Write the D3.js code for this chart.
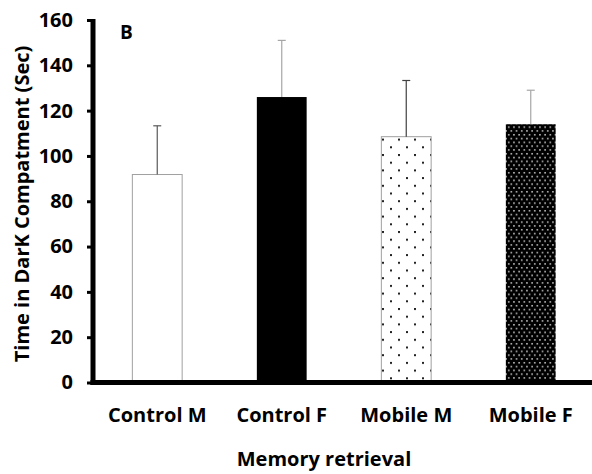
<!DOCTYPE html>
<html lang="en">
<head>
<meta charset="UTF-8">
<title>Memory retrieval</title>
<style>
  body { margin: 0; background: #fff; }
  svg { display: block; }
  text { font-family: "Open Sans", "Liberation Sans", sans-serif; font-weight: bold; fill: #000; }
</style>
</head>
<body>
<script src="https://d3js.org/d3.v7.min.js"></script>
<script>
// data
var groups = ["Control M", "Control F", "Mobile M", "Mobile F"];
var means = [91.8, 126, 108.5, 114];
var errors = [21.5, 25, 24.8, 15];
var yTicks = [0, 20, 40, 60, 80, 100, 120, 140, 160];
var fills = ["#fff", "#000", "url(#dotsLight)", "url(#dotsDark)"];
var errColors = ["#595959", "#a6a6a6", "#404040", "#a6a6a6"];

var width = 592, height = 474;

var svg = d3.select("body").append("svg")
    .attr("width", width)
    .attr("height", height);

var defs = svg.append("defs");

// white with dark dots
var p1 = defs.append("pattern")
    .attr("id", "dotsLight")
    .attr("patternUnits", "userSpaceOnUse")
    .attr("x", 382).attr("y", 0)
    .attr("width", 16).attr("height", 15.4);
p1.append("rect").attr("width", 16).attr("height", 15.4).attr("fill", "#fff");
p1.append("rect").attr("x", 0).attr("y", 0).attr("width", 2).attr("height", 2).attr("fill", "#222");
p1.append("rect").attr("x", 8).attr("y", 7.7).attr("width", 2).attr("height", 2).attr("fill", "#222");

// black with light dots
var p2 = defs.append("pattern")
    .attr("id", "dotsDark")
    .attr("patternUnits", "userSpaceOnUse")
    .attr("width", 5.2).attr("height", 7.6);
p2.append("rect").attr("width", 5.2).attr("height", 7.6).attr("fill", "#000");
p2.append("rect").attr("x", 1).attr("y", 1).attr("width", 1.5).attr("height", 1.5).attr("fill", "#d0d0d0");
p2.append("rect").attr("x", 3.6).attr("y", 4.8).attr("width", 1.5).attr("height", 1.5).attr("fill", "#d0d0d0");

var x = d3.scaleBand()
    .domain(groups)
    .range([95, 593])
    .paddingInner(0.6)
    .paddingOuter(0.3);

var y = d3.scaleLinear()
    .domain([0, 160])
    .range([382.5, 20]);

// bars
svg.selectAll(".bar")
    .data(groups)
    .enter().append("rect")
    .attr("class", "bar")
    .attr("x", function(d) { return x(d); })
    .attr("y", function(d, i) { return y(means[i]); })
    .attr("width", x.bandwidth())
    .attr("height", function(d, i) { return y(0) - y(means[i]); })
    .attr("fill", function(d, i) { return fills[i]; })
    .attr("stroke", function(d, i) { return i == 0 || i == 2 ? "#a0a0a0" : "none"; })
    .attr("stroke-width", 1);

// error bars (upper only)
var eb = svg.selectAll(".err")
    .data(groups)
    .enter().append("g")
    .attr("class", "err");

eb.append("line")
    .attr("x1", function(d) { return x(d) + x.bandwidth() / 2; })
    .attr("x2", function(d) { return x(d) + x.bandwidth() / 2; })
    .attr("y1", function(d, i) { return y(means[i]); })
    .attr("y2", function(d, i) { return y(means[i] + errors[i]); })
    .attr("stroke", function(d, i) { return errColors[i]; })
    .attr("stroke-width", 1.2);

eb.append("line")
    .attr("x1", function(d) { return x(d) + x.bandwidth() / 2 - 4; })
    .attr("x2", function(d) { return x(d) + x.bandwidth() / 2 + 4; })
    .attr("y1", function(d, i) { return y(means[i] + errors[i]); })
    .attr("y2", function(d, i) { return y(means[i] + errors[i]); })
    .attr("stroke", function(d, i) { return errColors[i]; })
    .attr("stroke-width", 1.2);

// y axis
var yAxis = svg.append("g")
    .attr("transform", "translate(93,0)")
    .call(d3.axisLeft(y).tickValues(yTicks).tickSize(6).tickPadding(14));
yAxis.select(".domain").attr("stroke", "#000").attr("stroke-width", 5)
    .attr("d", "M0," + (y(160) - 1) + "V" + (y(0) + 2.5));
yAxis.selectAll(".tick line").attr("stroke", "#000").attr("stroke-width", 3);
yAxis.selectAll(".tick text")
    .style("font-size", "20px")
    .attr("fill", "#000");

// x axis
var xAxis = svg.append("g")
    .attr("transform", "translate(0,382.5)")
    .call(d3.axisBottom(x).tickSize(0).tickPadding(25));
xAxis.select(".domain").attr("stroke", "#000").attr("stroke-width", 5)
    .attr("d", "M90.5,0H592");
xAxis.selectAll(".tick text")
    .style("font-size", "20px")
    .attr("fill", "#000");

// titles
svg.append("text")
    .attr("x", 324)
    .attr("y", 466)
    .attr("text-anchor", "middle")
    .style("font-size", "20px")
    .text("Memory retrieval");

svg.append("text")
    .attr("transform", "translate(29,204) rotate(-90)")
    .attr("text-anchor", "middle")
    .style("font-size", "20px")
    .text("Time in DarK Compatment (Sec)");

svg.append("text")
    .attr("x", 120)
    .attr("y", 39)
    .style("font-size", "19px")
    .text("B");
</script>
</body>
</html>
